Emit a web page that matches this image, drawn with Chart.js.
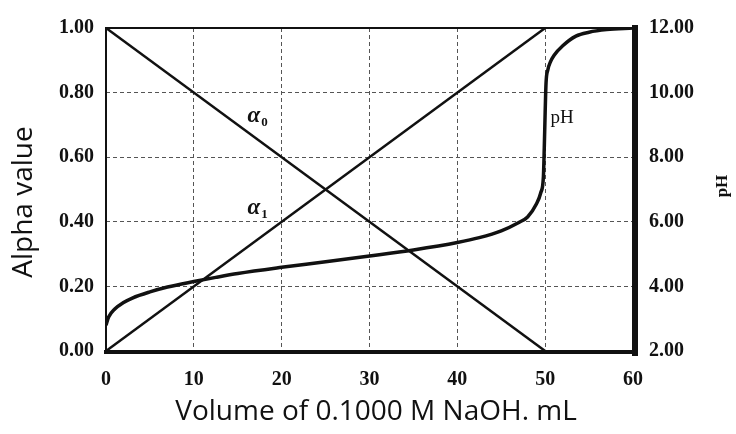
<!DOCTYPE html>
<html>
<head>
<meta charset="utf-8">
<script src="https://cdn.jsdelivr.net/npm/chart.js@4/dist/chart.umd.min.js"></script>
<style>
  html, body { margin: 0; padding: 0; background: #ffffff; }
  #wrap { width: 736px; height: 434px; }
</style>
</head>
<body>
<div id="wrap"><canvas id="c" width="736" height="434"></canvas></div>
<script>
// ---- data ----
const alphaVolumes = [0, 50];
const alpha0Values = [1.0, 0.0];
const alpha1Values = [0.0, 1.0];

const phVolumes = [0, 0.3, 1, 2, 3, 5, 7, 10, 12.5, 15, 20, 25, 30, 35, 40, 42.5, 45, 47, 48, 49, 49.5, 49.8, 49.9, 50, 50.1, 50.3, 50.6, 51, 52, 53.5, 55, 57, 60];
const phValues  = [2.80, 3.05, 3.30, 3.50, 3.64, 3.83, 3.98, 4.15, 4.28, 4.40, 4.59, 4.76, 4.94, 5.13, 5.36, 5.51, 5.72, 5.98, 6.15, 6.55, 6.90, 7.40, 8.30, 9.40, 10.30, 10.70, 10.95, 11.15, 11.45, 11.75, 11.87, 11.95, 12.0];

const xTicks = [0, 10, 20, 30, 40, 50, 60];
const alphaTicks = [0, 0.2, 0.4, 0.6, 0.8, 1.0];
const phTicks = [2, 4, 6, 8, 10, 12];

const xTitle = 'Volume of 0.1000 M NaOH. mL';
const yTitle = 'Alpha value';
const y2Title = 'pH';
const curveLabels = [
  { main: 'α', sub: '0', x: 16.1, y: 0.71, axis: 'y' },
  { main: 'α', sub: '1', x: 16.1, y: 0.425, axis: 'y' },
  { main: 'pH', sub: '', x: 50.6, y: 9.05, axis: 'y2' }
];

const toXY = (xs, ys) => xs.map((x, i) => ({ x: x, y: ys[i] }));

const INK = '#111111';
const tickFont = { family: '"Liberation Serif", "DejaVu Serif", serif', size: 20, weight: 'bold' };

const decorPlugin = {
  id: 'decor',
  afterDatasetsDraw(chart) {
    const ctx = chart.ctx;
    const a = chart.chartArea;
    ctx.save();
    ctx.strokeStyle = INK;
    ctx.lineCap = 'square';
    // frame
    ctx.lineWidth = 2;
    ctx.beginPath(); ctx.moveTo(a.left, a.top); ctx.lineTo(a.right, a.top); ctx.stroke();
    ctx.beginPath(); ctx.moveTo(a.left, a.top); ctx.lineTo(a.left, a.bottom); ctx.stroke();
    ctx.lineWidth = 4;
    ctx.beginPath(); ctx.moveTo(a.left, a.bottom + 1); ctx.lineTo(a.right, a.bottom + 1); ctx.stroke();
    ctx.lineWidth = 6;
    ctx.beginPath(); ctx.moveTo(a.right + 2, a.top); ctx.lineTo(a.right + 2, a.bottom + 2); ctx.stroke();

    // curve labels
    ctx.fillStyle = INK;
    ctx.textBaseline = 'alphabetic';
    ctx.textAlign = 'left';
    const xs = chart.scales.x;
    curveLabels.forEach(l => {
      const px = xs.getPixelForValue(l.x);
      const py = chart.scales[l.axis].getPixelForValue(l.y);
      if (l.sub) {
        ctx.font = 'italic bold 23px "Liberation Serif", serif';
        ctx.fillText(l.main, px, py);
        const w = ctx.measureText(l.main).width;
        ctx.font = 'bold 13px "Liberation Serif", serif';
        ctx.fillText(l.sub, px + w + 1, py + 4);
      } else {
        ctx.font = '19px "Liberation Serif", serif';
        ctx.fillText(l.main, px, py);
      }
    });

    // axis titles
    ctx.textAlign = 'center';
    ctx.textBaseline = 'middle';
    ctx.font = '28px "Open Sans", sans-serif';
    ctx.fillText(xTitle, 376, 412);

    ctx.save();
    ctx.translate(24, 202);
    ctx.rotate(-Math.PI / 2);
    ctx.font = '28px "Open Sans", sans-serif';
    ctx.fillText(yTitle, 0, 0);
    ctx.restore();

    ctx.save();
    ctx.translate(723, 186);
    ctx.rotate(-Math.PI / 2);
    ctx.font = 'bold 17px "Liberation Serif", serif';
    ctx.fillText(y2Title, 0, 0);
    ctx.restore();
    ctx.restore();
  }
};

new Chart(document.getElementById('c'), {
  type: 'line',
  data: {
    datasets: [
      { label: 'alpha0', data: toXY(alphaVolumes, alpha0Values), yAxisID: 'y',
        borderColor: INK, borderWidth: 2.5, pointRadius: 0, tension: 0 },
      { label: 'alpha1', data: toXY(alphaVolumes, alpha1Values), yAxisID: 'y',
        borderColor: INK, borderWidth: 2.5, pointRadius: 0, tension: 0 },
      { label: 'pH', data: toXY(phVolumes, phValues), yAxisID: 'y2',
        borderColor: INK, borderWidth: 3.5, pointRadius: 0, cubicInterpolationMode: 'monotone' }
    ]
  },
  options: {
    responsive: false,
    devicePixelRatio: 1,
    animation: false,
    layout: { padding: { top: 28, left: 0, right: 0, bottom: 0 } },
    plugins: { legend: { display: false }, tooltip: { enabled: false } },
    scales: {
      x: {
        type: 'linear', min: 0, max: 60,
        afterBuildTicks: s => { s.ticks = xTicks.map(v => ({ value: v })); },
        afterFit: s => { s.height = 83; },
        ticks: { font: tickFont, color: INK, padding: 17, maxRotation: 0,
                 callback: v => String(v) },
        grid: { drawTicks: false, lineWidth: 1,
                color: c => (c.tick && (c.tick.value === 0 || c.tick.value === 60)) ? 'rgba(0,0,0,0)' : '#555555' },
        border: { display: false, dash: [4, 3] }
      },
      y: {
        type: 'linear', position: 'left', min: 0, max: 1,
        afterBuildTicks: s => { s.ticks = alphaTicks.map(v => ({ value: v })); },
        afterFit: s => { s.width = 106; },
        ticks: { font: tickFont, color: INK, padding: 12, callback: v => Number(v).toFixed(2) },
        grid: { drawTicks: false, lineWidth: 1,
                color: c => (c.tick && (Math.abs(c.tick.value) < 1e-9 || Math.abs(c.tick.value - 1) < 1e-9)) ? 'rgba(0,0,0,0)' : '#555555' },
        border: { display: false, dash: [4, 3] }
      },
      y2: {
        type: 'linear', position: 'right', min: 2, max: 12,
        afterBuildTicks: s => { s.ticks = phTicks.map(v => ({ value: v })); },
        afterFit: s => { s.width = 103; },
        ticks: { font: tickFont, color: INK, padding: 16, callback: v => Number(v).toFixed(2) },
        grid: { display: false, drawTicks: false },
        border: { display: false }
      }
    }
  },
  plugins: [decorPlugin]
});
</script>
</body>
</html>
